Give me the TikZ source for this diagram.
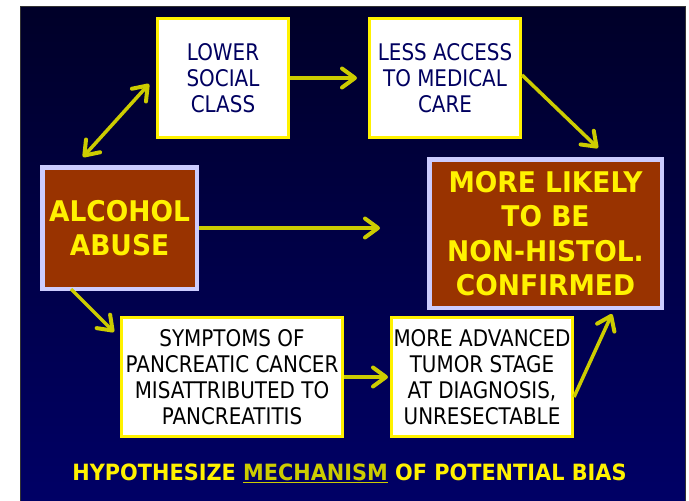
\documentclass[tikz,border=0pt]{standalone}
\usepackage{fontspec}
\setmainfont[FakeStretch=0.87]{DejaVu Sans}
\newfontfamily\bfont[FakeStretch=0.93]{DejaVu Sans}
\usetikzlibrary{arrows.meta}
\definecolor{navytop}{HTML}{000028}
\definecolor{navybot}{HTML}{000066}
\definecolor{navytext}{HTML}{000060}
\definecolor{arrowyel}{HTML}{CCCC00}
\definecolor{brownbox}{HTML}{993300}
\definecolor{lavender}{HTML}{CCCCFF}
\tikzset{
  whitebox/.style={draw=yellow, line width=3pt, fill=white, inner sep=0pt,
    align=center, font=\fontsize{22.9}{26}\selectfont},
  brownnode/.style={draw=lavender, line width=4.5pt, fill=brownbox, inner sep=0pt,
    align=center, text=yellow, font=\bfont\bfseries\fontsize{28.5}{34.5}\selectfont},
  tipstyle/.style={},
  conn/.style={draw=arrowyel, line width=3.5pt,
    -{Straight Barb[length=13pt,width=19pt,line width=4pt,round]}},
  dconn/.style={draw=arrowyel, line width=3.5pt,
    {Straight Barb[length=13pt,width=19pt,line width=4pt,round]}-{Straight Barb[length=13pt,width=19pt,line width=4pt,round]}}
}
\begin{document}
\begin{tikzpicture}[x=1pt,y=-1pt]
\useasboundingbox (0,0) rectangle (689,501);
\fill[white] (0,0) rectangle (689,501);
\shade[top color=navytop, bottom color=navybot] (20,6) rectangle (685,501);
\draw[black!80, line width=1pt] (20,6) rectangle (685,501);

\node[whitebox, text=navytext, minimum width=131pt, minimum height=119pt] (lower) at (223,78) {LOWER\\SOCIAL\\CLASS};
\node[whitebox, text=navytext, minimum width=151pt, minimum height=119pt] (less) at (445,78) {LESS ACCESS\\TO MEDICAL\\CARE};
\node[brownnode, minimum width=154.5pt, minimum height=121.5pt] (alcohol) at (119.5,228) {ALCOHOL\\ABUSE};
\node[brownnode, minimum width=232.5pt, minimum height=148.5pt] (likely) at (545.5,233.5) {MORE LIKELY\\TO BE\\NON-HISTOL.\\CONFIRMED};
\node[whitebox, text=black, minimum width=221pt, minimum height=119pt] (sympt) at (232,377) {SYMPTOMS OF\\PANCREATIC CANCER\\MISATTRIBUTED TO\\PANCREATITIS};
\node[whitebox, text=black, minimum width=181pt, minimum height=119pt] (adv) at (482,377) {MORE ADVANCED\\TUMOR STAGE\\AT DIAGNOSIS,\\UNRESECTABLE};

\coordinate (a1) at ([shift={(43,-8)}]alcohol.north west);
\coordinate (a2) at ([shift={(-7,6)}]lower.west);
\coordinate (c1) at ([shift={(0,-3)}]less.east);
\coordinate (c2) at ([shift={(52.5,-9)}]likely.north);
\coordinate (e1) at ([shift={(-48.5,-2)}]alcohol.south);
\coordinate (e2) at ([shift={(-6,16)}]sympt.north west);
\coordinate (g1) at ([shift={(0,20)}]adv.east);
\coordinate (g2) at ([shift={(66.5,4)}]likely.south);

\draw[dconn] (a1) -- (a2);
\draw[conn, shorten >=11pt] (lower.east) -- (less.west);
\draw[conn] (c1) -- (c2);
\draw[conn, shorten >=47pt] (alcohol.east) -- (alcohol.east -| likely.west);
\draw[conn] (e1) -- (e2);
\draw[conn, shorten >=2pt] (sympt.east) -- (adv.west);
\draw[conn] (g1) -- (g2);

\node[text=yellow, font=\bfont\bfseries\fontsize{22.4}{26}\selectfont, inner sep=0pt] (title) at (349.5,473)
  {HYPOTHESIZE \textcolor{arrowyel}{\underline{MECHANISM}} OF POTENTIAL BIAS};
\end{tikzpicture}
\end{document}
